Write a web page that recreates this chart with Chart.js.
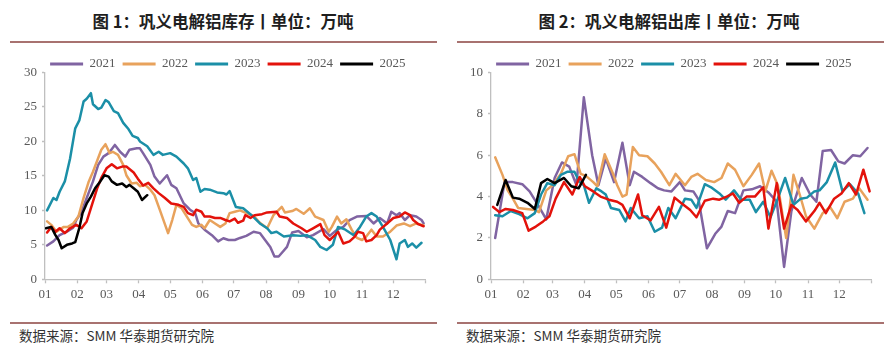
<!DOCTYPE html>
<html><head><meta charset="utf-8">
<script src="https://cdn.jsdelivr.net/npm/chart.js@4.4.0/dist/chart.umd.min.js"></script>
<style>
html,body{margin:0;padding:0;background:#fff;}
body{width:892px;height:353px;position:relative;overflow:hidden;}
.title{position:absolute;top:9px;width:446px;text-align:center;font:bold 16.5px "Noto Sans CJK SC";color:#1e1e1e;line-height:24px;white-space:nowrap;}
.rule{position:absolute;height:2px;background:#a87270;}
.src{position:absolute;top:326px;font:13.5px "Noto Sans CJK SC";color:#333;line-height:18px;white-space:nowrap;}
canvas{position:absolute;top:44px;}
</style></head><body>
<div class="title" style="left:0">图&nbsp;1：巩义电解铝库存丨单位：万吨</div>
<div class="title" style="left:446px">图&nbsp;2：巩义电解铝出库丨单位：万吨</div>
<div class="rule" style="left:10px;width:427px;top:41px"></div>
<div class="rule" style="left:457px;width:427px;top:41px"></div>
<div class="rule" style="left:10px;width:427px;top:322px"></div>
<div class="rule" style="left:457px;width:427px;top:322px"></div>
<div class="src" style="left:19px">数据来源：SMM 华泰期货研究院</div>
<div class="src" style="left:466px">数据来源：SMM 华泰期货研究院</div>
<canvas id="c1" width="446" height="266" style="left:0"></canvas>
<canvas id="c2" width="446" height="266" style="left:446px"></canvas>
<script>
// ---- axis definitions ----
const monthStarts = [0,31,59,90,120,151,181,212,243,273,304,334,365];
const monthLabels = ['01','02','03','04','05','06','07','08','09','10','11','12',''];
const years = ['2021','2022','2023','2024','2025'];
const colors = ['#8064A2','#E8A25C','#1B8FA7','#E3120B','#000000'];

// ---- chart 1: inventory (day of year, value) ----
const invDays2021 = [2,8,14,21,27,30,35,40,46,51,56,61,67,72,77,81,88,91,94,101,105,110,117,121,126,133,139,144,147,153,160,166,171,176,182,187,193,200,206,211,216,220,224,228,232,237,243,251,257,267,273,280,286,292,299,308,315,321,328,332,337,340,345,350,356,361,363];
const inv2021 = [4.9,5.5,6.4,6.9,7.5,8.6,9.8,11.8,14.2,16.6,17.8,18.3,19.5,18.5,17.8,18.8,19.0,19.0,18.3,16.6,14.9,13.9,15.1,13.7,13.2,11.0,10.1,9.6,8.1,7.2,6.4,5.5,5.95,5.7,5.7,6.0,6.3,6.9,6.7,5.7,4.7,3.3,3.3,4.0,4.7,6.8,7.0,6.1,6.4,7.3,6.3,7.2,7.6,8.6,9.1,9.2,8.1,8.9,8.1,9.8,9.3,9.6,8.6,9.3,9.1,8.6,8.1];
const invDays2022 = [2,6,11,18,22,27,32,37,42,46,51,54,58,62,65,70,75,78,83,88,91,96,101,105,110,114,118,122,126,131,136,141,145,150,153,158,163,168,173,177,182,187,193,200,206,213,219,227,230,237,241,248,254,259,267,272,275,280,284,289,294,299,304,308,313,318,324,331,337,344,350,356,363];
const inv2022 = [8.4,7.9,6.9,7.6,7.6,8.1,9.1,11.8,14.2,15.6,17.6,18.8,19.6,18.3,18.5,18.05,16.6,15.1,13.9,14.0,13.5,13.7,13.0,12.2,10.1,8.4,6.7,8.6,10.8,10.3,9.1,7.9,7.6,7.9,7.4,8.6,8.1,7.6,8.1,9.6,9.8,10.0,9.6,9.2,8.2,7.4,9.3,10.5,9.7,9.9,10.2,9.5,10.3,9.1,8.6,6.9,7.6,9.1,8.1,8.7,7.2,6.0,5.7,6.2,7.2,6.2,6.2,6.9,7.8,8.1,7.7,8.1,7.8];
const invDays2023 = [2,8,11,14,19,24,29,33,37,40,44,46,51,54,58,61,66,70,75,80,84,89,91,98,104,109,113,120,126,133,137,142,145,149,153,158,165,171,174,177,183,190,198,206,213,217,222,229,238,245,251,259,264,270,276,281,288,296,302,308,313,318,324,331,337,340,345,348,352,356,361];
const inv2023 = [10.0,11.8,11.5,12.7,14.2,17.5,21.9,23.1,25.8,26.2,27.0,25.4,24.7,24.9,26.0,25.7,24.4,24.1,22.7,21.8,20.8,20.5,20.0,19.3,18.05,18.5,18.05,18.3,17.8,16.8,16.1,14.4,14.7,12.7,13.1,13.0,12.6,12.5,12.3,12.8,10.5,10.3,9.3,8.1,7.4,6.7,6.9,6.2,6.4,6.3,6.4,5.7,4.7,4.25,5.0,7.6,7.2,6.4,7.6,9.1,9.6,9.1,7.6,5.7,2.9,5.2,5.7,4.7,5.2,4.6,5.3];
const invDays2024 = [2,6,10,14,19,24,30,35,40,45,50,54,59,64,69,74,78,85,89,94,99,104,109,115,121,128,133,137,142,145,150,153,158,163,168,173,177,182,185,190,192,197,201,208,213,222,225,232,238,246,251,257,264,268,273,278,281,286,292,297,300,305,308,313,318,321,328,334,340,345,350,353,358,363];
const inv2024 = [6.8,7.6,6.9,7.4,6.7,7.4,7.9,7.4,8.4,10.8,13.2,14.7,16.1,16.7,16.1,16.35,16.35,15.5,14.6,13.6,14.0,13.2,12.5,11.8,11.0,10.8,10.5,9.6,9.3,10.1,9.8,9.1,9.1,8.9,8.9,8.6,8.4,8.8,8.2,8.5,9.3,8.9,9.3,9.45,9.7,9.8,9.1,8.9,8.1,7.4,6.9,7.4,8.0,6.4,5.7,6.4,6.9,5.2,5.5,6.2,6.9,6.7,5.5,5.7,6.4,7.2,8.1,8.9,9.1,9.7,9.3,8.6,8.0,7.7];
const invDays2025 = [1,6,10,13,16,21,26,29,33,36,40,44,48,53,57,61,64,69,74,78,81,85,89,93,98];
const inv2025 = [7.4,7.6,6.4,5.7,4.5,5.0,5.2,5.4,7.5,9.6,11.0,12.0,13.2,14.2,15.1,14.9,14.2,13.7,13.9,13.4,13.7,13.2,12.7,11.5,12.2];

// ---- chart 2: outbound (day of year, value) ----
const outDays2021 = [4,13,21,30,37,45,53,61,68,75,82,89,97,103,110,118,126,133,137,145,153,160,166,173,181,186,194,199,207,215,221,227,234,242,250,258,266,274,281,288,298,306,312,318,326,333,339,347,354,361];
const out2021 = [2.0,4.7,4.7,4.6,4.25,3.6,2.9,4.9,5.65,5.45,4.55,8.8,6.0,4.55,5.85,4.7,6.6,4.55,5.2,4.95,4.65,4.4,4.3,4.25,4.7,4.3,4.25,3.85,1.5,2.2,2.55,3.3,3.2,4.3,4.35,4.5,4.2,3.75,0.6,3.3,4.9,4.1,3.75,6.2,6.25,5.7,5.6,6.0,5.95,6.35];
const outDays2022 = [4,11,16,21,26,34,42,46,53,59,67,74,80,86,91,98,102,109,117,121,126,130,136,142,150,157,163,171,177,186,192,198,206,214,221,227,234,242,250,257,263,269,275,283,290,296,302,310,318,325,332,339,347,353,361];
const out2022 = [5.9,5.05,4.3,3.9,3.45,3.4,3.35,3.25,4.3,4.55,5.1,5.95,6.05,5.1,5.0,4.7,4.5,6.05,5.1,4.55,4.0,4.1,6.4,6.0,5.95,5.6,5.2,4.55,5.1,4.55,4.95,5.1,4.8,4.7,4.9,5.6,5.3,4.5,5.05,5.6,4.25,5.25,4.55,2.0,5.05,4.1,3.05,2.45,3.2,3.5,2.95,3.75,3.9,4.4,3.85];
const outDays2023 = [4,11,19,27,35,42,48,54,61,67,73,80,85,89,94,101,106,110,115,123,129,134,142,150,157,164,170,177,186,192,197,205,211,219,225,233,240,248,254,261,268,275,282,290,297,303,310,315,322,330,337,344,352,358];
const out2023 = [3.1,3.05,3.3,3.15,2.95,3.2,4.1,4.65,4.55,5.05,5.2,5.2,4.7,4.55,3.7,4.4,4.25,4.1,3.45,3.35,2.8,3.45,2.95,3.05,2.3,2.5,3.45,2.95,3.9,3.85,3.45,4.6,4.45,4.15,3.85,4.3,3.85,3.85,3.25,3.75,3.0,3.9,4.9,3.6,3.9,3.95,4.25,4.3,4.7,5.65,4.25,4.6,4.15,3.2];
const outDays2024 = [2,8,14,21,30,36,43,50,56,62,70,78,85,90,98,105,113,121,126,133,141,145,153,161,168,176,182,191,197,205,213,219,226,232,238,245,253,261,266,274,281,288,294,302,310,315,321,329,336,343,350,357,363];
const out2024 = [3.5,3.25,3.4,3.35,3.2,2.35,2.55,2.8,3.05,3.9,4.7,4.1,4.95,4.5,4.25,4.0,3.85,3.75,3.6,2.95,4.1,3.1,2.85,3.5,2.5,3.95,3.7,3.35,3.0,3.8,3.9,3.85,4.0,4.15,3.7,4.0,4.0,4.45,2.45,4.65,2.45,3.6,3.35,2.8,3.3,3.7,3.2,3.9,4.15,4.65,4.1,5.3,4.25];
const outDays2025 = [6,14,21,27,35,42,48,54,61,70,77,84,91];
const out2025 = [3.6,4.8,3.95,3.9,3.7,3.4,4.65,4.85,4.65,4.9,4.5,4.4,5.05];

const invSeries = [[invDays2021,inv2021],[invDays2022,inv2022],[invDays2023,inv2023],[invDays2024,inv2024],[invDays2025,inv2025]];
const outSeries = [[outDays2021,out2021],[outDays2022,out2022],[outDays2023,out2023],[outDays2024,out2024],[outDays2025,out2025]];

const tickFont = {family:'"Liberation Serif", "Times New Roman", serif', size:13};
const axisColor = '#bfbfbf';
const textColor = '#595959';

const layoutTune = {
  id:'layoutTune',
  beforeLayout(chart){
    const lg = chart.legend;
    if (lg && !lg._tuned){
      const fit = lg.fit;
      lg.fit = function(){ fit.call(this); this.height = 22; };
      lg._tuned = true;
    }
  },
  afterLayout(chart){
    const lg = chart.legend;
    if (lg){ lg.left += 15; lg.right += 15; }
  }
};

function makeChart(id, series, yMax, yStep){
  const datasets = series.map((s, i) => ({
    label: years[i],
    data: s[0].map((d, k) => ({x: d, y: s[1][k]})),
    borderColor: colors[i],
    backgroundColor: colors[i],
    borderWidth: 2.5,
    pointRadius: 0,
    tension: 0,
    fill: false,
    borderJoinStyle: 'round',
    borderCapStyle: 'round',
    order: 5 - i
  }));
  return new Chart(document.getElementById(id), {
    type:'line',
    data:{datasets},
    plugins:[layoutTune],
    options:{
      responsive:false,
      animation:false,
      devicePixelRatio:1,
      layout:{padding:{left:0, right:20.3, top:6.5, bottom:5.7}},
      plugins:{
        tooltip:{enabled:false},
        legend:{
          position:'top',
          labels:{
            boxWidth:33, boxHeight:3, padding:7, color:textColor, font:tickFont,
            sort:(a,b)=>a.datasetIndex-b.datasetIndex,
            generateLabels:(chart)=>Chart.defaults.plugins.legend.labels.generateLabels(chart).map(l=>Object.assign(l,{lineWidth:0, fillStyle:l.strokeStyle}))
          }
        }
      },
      scales:{
        x:{
          type:'linear', min:0, max:365,
          afterBuildTicks:(s)=>{ s.ticks = monthStarts.map(v=>({value:v})); },
          afterFit:(s)=>{ s.height = 25; },
          ticks:{autoSkip:false, maxRotation:0, minRotation:0, padding:3, color:textColor, font:tickFont,
            callback:(v)=>monthLabels[monthStarts.indexOf(v)] ?? ''},
          grid:{drawOnChartArea:false, drawTicks:true, tickLength:4, tickColor:axisColor, tickWidth:1.3},
          border:{color:axisColor, width:1.3}
        },
        y:{
          min:0, max:yMax,
          afterFit:(s)=>{ s.width = 45; },
          ticks:{stepSize:yStep, padding:5, color:textColor, font:tickFont},
          grid:{drawOnChartArea:false, drawTicks:true, tickLength:3, tickColor:axisColor, tickWidth:1.3},
          border:{color:axisColor, width:1.3}
        }
      }
    }
  });
}

makeChart('c1', invSeries, 30, 5);
makeChart('c2', outSeries, 10, 2);
</script>
</body></html>
